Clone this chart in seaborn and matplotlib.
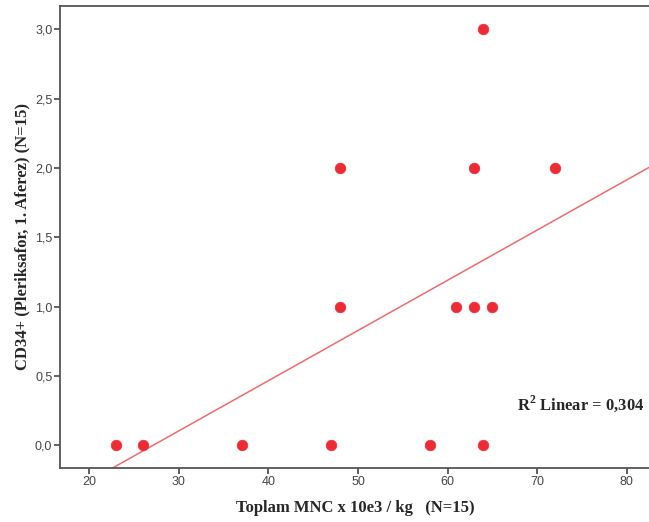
import matplotlib
matplotlib.use("Agg")
import matplotlib.pyplot as plt
import seaborn as sns
import numpy as np
import pandas as pd

# Total MNC dose vs CD34+ yield after the first apheresis
mnc = [23, 26, 37, 47, 58, 64, 48, 48, 61, 63, 65, 63, 72, 64]
cd34 = [0, 0, 0, 0, 0, 0, 1, 2, 1, 1, 1, 2, 2, 3]

x_ticks = [20, 30, 40, 50, 60, 70, 80]
x_tick_labels = ["20", "30", "40", "50", "60", "70", "80"]
y_ticks = [0.0, 0.5, 1.0, 1.5, 2.0, 2.5, 3.0]
y_tick_labels = ["0,0", "0,5", "1,0", "1,5", "2,0", "2,5", "3,0"]

x_label = "Toplam MNC x 10e3 / kg   (N=15)"
y_label = "CD34+ (Pleriksafor, 1. Aferez) (N=15)"
r2_label = r"R$^\mathbf{2}$ Linear = 0,304"

df = pd.DataFrame({"mnc": mnc, "cd34": cd34})

sns.set_style("white")
plt.rcParams["font.family"] = ["Liberation Sans", "DejaVu Sans"]
plt.rcParams["mathtext.fontset"] = "custom"
plt.rcParams["mathtext.rm"] = "Liberation Serif"
plt.rcParams["mathtext.bf"] = "Liberation Serif:bold"

fig = plt.figure(figsize=(6.49, 5.22), dpi=100)
ax = fig.add_axes([60 / 649, 1 - 468 / 522, 1 - 60 / 649 + 0.002, (468 - 6) / 522])
ax.set_xlim(16.72, 82.65)
ax.set_ylim(-0.164, 3.168)

sns.regplot(
    data=df, x="mnc", y="cd34", ax=ax, ci=None, truncate=False,
    scatter_kws=dict(s=58, color="#ee2b34", edgecolor="#ee2b34", linewidths=0.5, alpha=1, zorder=3),
    line_kws=dict(color="#f26a6a", lw=1.1, zorder=2),
)
ax.set_xlim(16.72, 82.65)
ax.set_ylim(-0.164, 3.168)

ax.set_xticks(x_ticks)
ax.set_xticklabels(x_tick_labels)
ax.set_yticks(y_ticks)
ax.set_yticklabels(y_tick_labels)
ax.tick_params(axis="both", direction="out", length=4, width=1.2, color="#444444",
               labelsize=9, labelcolor="#444444", pad=1.5,
               bottom=True, left=True)

for side in ["left", "top", "bottom"]:
    ax.spines[side].set_color("#555555")
    ax.spines[side].set_linewidth(1.3)
ax.spines["right"].set_visible(False)

serif_bold = dict(family=["Liberation Serif", "DejaVu Serif"], weight="bold", size=12)
ax.set_xlabel(x_label, fontdict=serif_bold, labelpad=9)
ax.set_ylabel(y_label, fontdict=serif_bold, labelpad=3)

ax.text(517, 522 - 404, r2_label, transform=None, va="center", ha="left",
        family=["Liberation Serif", "DejaVu Serif"], weight="bold", size=12)

fig.savefig("out.png", dpi=100)
